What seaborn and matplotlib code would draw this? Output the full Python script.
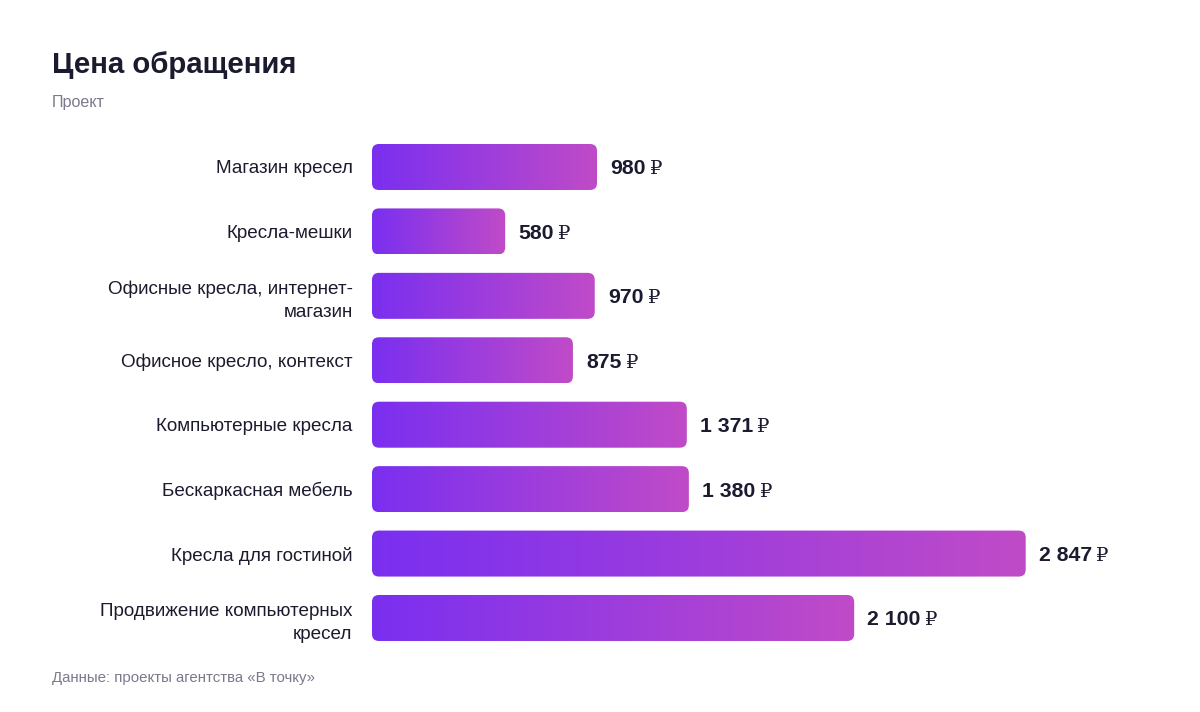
import matplotlib
matplotlib.use("Agg")
import matplotlib.pyplot as plt
import numpy as np
import seaborn as sns
from matplotlib.colors import LinearSegmentedColormap
from matplotlib.patches import FancyBboxPatch

# data
categories = [
    "Магазин кресел",
    "Кресла-мешки",
    "Офисные кресла, интернет-\nмагазин",
    "Офисное кресло, контекст",
    "Компьютерные кресла",
    "Бескаркасная мебель",
    "Кресла для гостиной",
    "Продвижение компьютерных\nкресел",
]
prices = [980, 580, 970, 875, 1371, 1380, 2847, 2100]

title = "Цена обращения"
subtitle = "Проект"
source = "Данные: проекты агентства «В точку»"

DARK = "#1b1b2f"
GREY = "#7a7a8c"
grad = LinearSegmentedColormap.from_list("bar", ["#7a2ff0", "#c04bc8"])

sns.set_theme(style="white")
plt.rcParams["font.family"] = ["Liberation Sans", "DejaVu Sans"]

fig = plt.figure(figsize=(12, 7.12), dpi=100)
ax = fig.add_axes([0.31, 0.0868, 0.65, 0.7239])

sns.barplot(x=prices, y=categories, orient="h", color="#7a2ff0",
            width=0.714, ax=ax)
ax.set_xlim(0, 3397)
sns.despine(ax=ax, left=True, bottom=True)
ax.set_xticks([])
ax.set_xlabel("")
ax.set_ylabel("")
ax.tick_params(axis="y", length=0, pad=14, labelsize=13.6, labelcolor=DARK)
for lbl in ax.get_yticklabels():
    lbl.set_multialignment("right")
    lbl.set_linespacing(1.45)

fig.canvas.draw()
renderer = fig.canvas.get_renderer()
# data units per pixel, for round corners
x_pp = 3397 / (0.65 * 1200)
y_pp = 8 / (0.7239 * 712)
radius_px = 7
gap_pt = 9.5
drop_pt = -5.4  # baseline sits half a cap height below bar centre

gradient = np.linspace(0, 1, 256).reshape(1, -1)
for bar, val in zip(list(ax.patches), prices):
    x0, y0 = bar.get_x(), bar.get_y()
    w, h = bar.get_width(), bar.get_height()
    bar.set_visible(False)
    shape = FancyBboxPatch(
        (x0, y0), w, h,
        boxstyle=f"round,pad=0,rounding_size={radius_px * x_pp}",
        mutation_aspect=y_pp / x_pp,
        facecolor="none", edgecolor="none",
    )
    ax.add_patch(shape)
    img = ax.imshow(gradient, cmap=grad, aspect="auto",
                    extent=(x0, x0 + w, y0 + h, y0), zorder=2)
    img.set_clip_path(shape)

    num = ax.annotate(f"{val:,}".replace(",", " "),
                      xy=(x0 + w, y0 + h / 2), xytext=(gap_pt, drop_pt),
                      textcoords="offset points", ha="left", va="baseline",
                      fontsize=15.3, fontweight="bold", color=DARK)
    num_w = num.get_window_extent(renderer).width * 72 / fig.dpi
    ax.annotate("₽", xy=(x0 + w, y0 + h / 2),
                xytext=(gap_pt + num_w + 3, drop_pt),
                textcoords="offset points", ha="left", va="baseline",
                fontsize=14, color=DARK, family=["DejaVu Serif", "DejaVu Sans"])

ax.set_ylim(len(categories) - 0.5, -0.5)
ax.set_aspect("auto")

fig.text(52 / 1200, 1 - 65 / 712, title, fontsize=21.2, fontweight="bold",
         color=DARK, ha="left", va="center")
fig.text(52 / 1200, 1 - 102 / 712, subtitle, fontsize=11.6, color=GREY,
         ha="left", va="center")
fig.text(52 / 1200, 1 - 678 / 712, source, fontsize=10.8, color=GREY,
         ha="left", va="center")

fig.savefig("out.png", dpi=100, facecolor="white")
